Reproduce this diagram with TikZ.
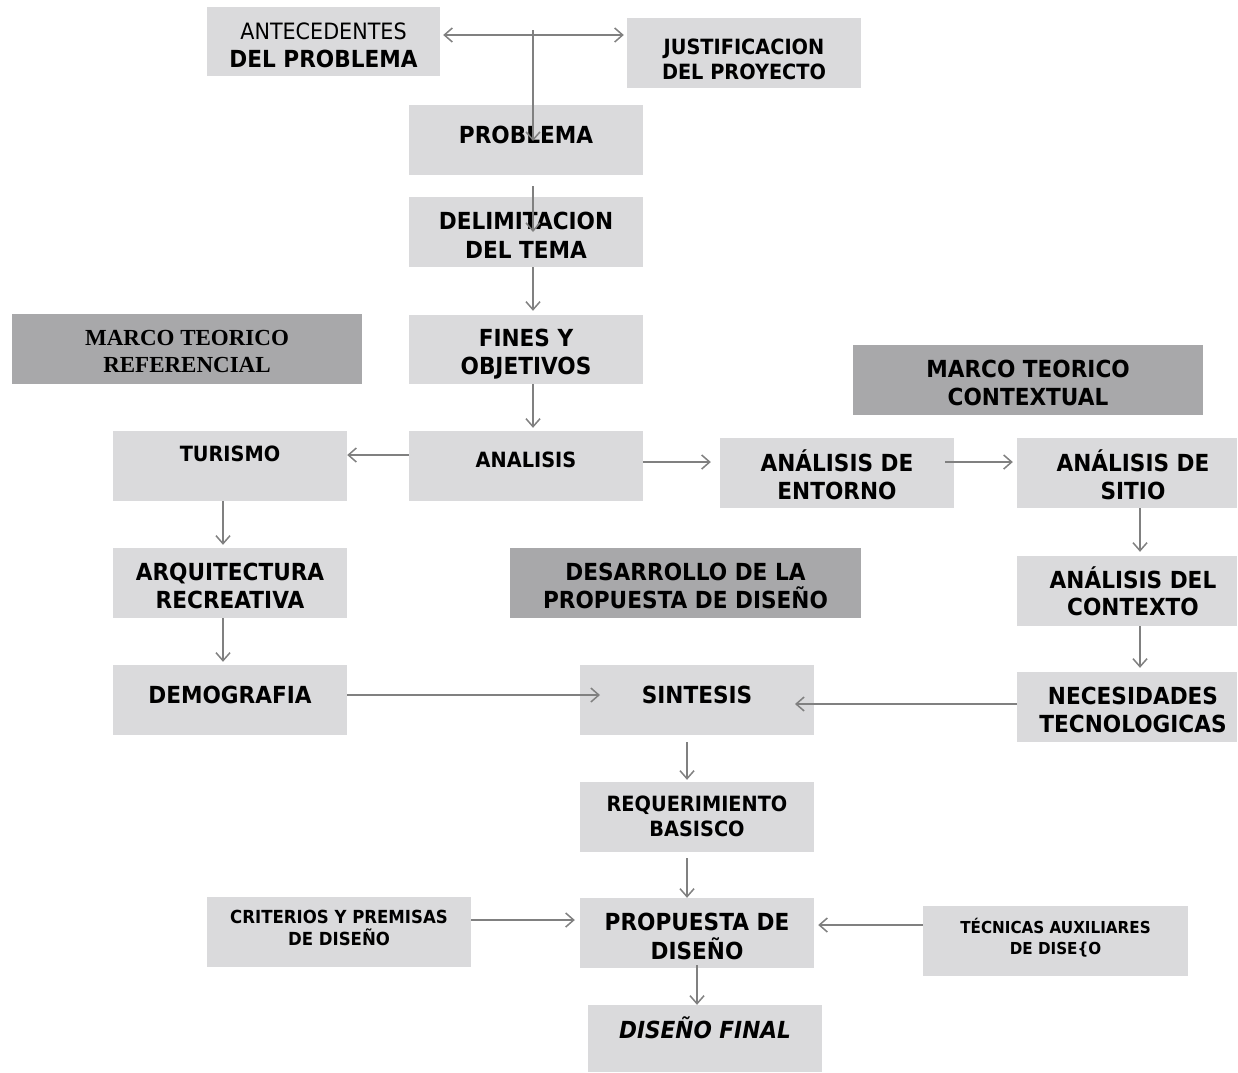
\documentclass[tikz,border=0pt]{standalone}
\usepackage{fontspec}
\setmainfont[FakeStretch=0.92]{DejaVu Sans}
\newfontfamily\timesf{Liberation Serif}
\usetikzlibrary{arrows.meta}
\definecolor{boxfill}{RGB}{218,218,220}
\definecolor{hdrfill}{RGB}{168,168,170}
\definecolor{arrowgray}{RGB}{128,128,128}
\newcommand{\bigf}{\fontsize{23.5}{28}\bfseries\selectfont}
\newcommand{\midf}{\fontsize{21}{25}\bfseries\selectfont}
\newcommand{\rsh}{\hspace*{12pt}}
\begin{document}
\begin{tikzpicture}[x=1pt,y=-1pt,
  box/.style={rectangle, fill=boxfill, inner sep=0pt, align=center, font=\bigf},
  hdr/.style={rectangle, fill=hdrfill, inner sep=0pt, align=center, font=\bigf},
  sz/.style 2 args={minimum width=#1pt, minimum height=#2pt},
  td/.style 2 args={text height=#1pt, text depth=#2pt},
  arr/.style={draw=arrowgray, line width=1.5pt, -{Straight Barb[length=8pt,width=14pt]}},
  darr/.style={draw=arrowgray, line width=1.5pt, {Straight Barb[length=8pt,width=14pt]}-{Straight Barb[length=8pt,width=14pt]}}
]
\useasboundingbox (0,0) rectangle (1238,1072);

% nodes
\node[box, sz={233}{69}, td={60.6}{8.4}] (ante) at (323.5,41.5) {{\fontsize{22.5}{28}\mdseries\selectfont ANTECEDENTES}\\DEL PROBLEMA};
\node[box, sz={234}{70}, font=\midf, td={61.7}{8.3}] (just) at (744,53) {JUSTIFICACION\\DEL PROYECTO};
\node[box, sz={234}{70}, td={38.6}{31.4}] (problema) at (526,140) {PROBLEMA};
\node[box, sz={234}{70}, font=\fontsize{23.5}{29}\bfseries\selectfont, td={61.6}{8.4}] (delim) at (526,232) {DELIMITACION\\DEL TEMA};
\node[box, sz={234}{69}, td={59.6}{9.4}] (fines) at (526,349.5) {FINES Y\\OBJETIVOS};
\node[box, sz={234}{70}, font=\midf, td={36.7}{33.3}] (analisis) at (526,466) {ANALISIS};
\node[hdr, sz={350}{70}, font=\fontsize{23}{27}\timesf\bfseries\selectfont, td={58.3}{11.7}] (mtr) at (187,349) {MARCO TEORICO\\REFERENCIAL};
\node[hdr, sz={350}{70}, td={60.6}{9.4}] (mtc) at (1028,380) {MARCO TEORICO\\CONTEXTUAL};
\node[box, sz={234}{70}, font=\midf, td={30.7}{39.3}] (turismo) at (230,466) {TURISMO};
\node[box, sz={234}{70}, td={61.6}{8.4}] (entorno) at (837,473) {ANÁLISIS DE\\ENTORNO};
\node[box, sz={220}{70}, td={61.6}{8.4}] (sitio) at (1127,473) {\rsh ANÁLISIS DE\\\rsh SITIO};
\node[box, sz={234}{70}, td={60.6}{9.4}] (arq) at (230,583) {ARQUITECTURA\\RECREATIVA};
\node[box, sz={234}{70}, td={38.6}{31.4}] (demo) at (230,700) {DEMOGRAFIA};
\node[hdr, sz={351}{70}, td={60.6}{9.4}] (desarrollo) at (685.5,583) {DESARROLLO DE LA\\PROPUESTA DE DISEÑO};
\node[box, sz={220}{70}, font=\fontsize{23.5}{27}\bfseries\selectfont, td={59.6}{10.4}] (contexto) at (1127,591) {\rsh ANÁLISIS DEL\\\rsh CONTEXTO};
\node[box, sz={220}{70}, td={60.6}{9.4}] (neces) at (1127,707) {\rsh NECESIDADES\\\rsh TECNOLOGICAS};
\node[box, sz={234}{70}, td={38.6}{31.4}] (sintesis) at (697,700) {SINTESIS};
\node[box, sz={234}{70}, font=\midf, td={54.7}{15.3}] (req) at (697,817) {REQUERIMIENTO\\BASISCO};
\node[box, sz={234}{70}, font=\fontsize{23.5}{29}\bfseries\selectfont, td={61.6}{8.4}] (prop) at (697,933) {PROPUESTA DE\\DISEÑO};
\node[box, sz={264}{70}, font=\fontsize{18}{22}\bfseries\selectfont, td={48.6}{21.4}] (crit) at (339,932) {CRITERIOS Y PREMISAS\\DE DISEÑO};
\node[box, sz={265}{70}, font=\fontsize{16.5}{21}\bfseries\selectfont, td={48}{22}] (tec) at (1055.5,941) {TÉCNICAS AUXILIARES\\DE DISE\{O};
\node[box, sz={234}{67}, font=\fontsize{23.5}{28}\bfseries\itshape\selectfont, td={33.6}{33.4}] (final) at (705,1038.5) {DISEÑO FINAL};

% helper coordinates
\coordinate (jn) at (533,30);
\coordinate (y35) at (0,35);
\coordinate (pj) at (533,141);
\coordinate (d1) at (533,186);
\coordinate (d2) at (533,232);
\coordinate (x533) at (533,0);
\coordinate (y455) at (0,455);
\coordinate (y462) at (0,462);
\coordinate (e1) at (945,462);
\coordinate (x223) at (223,0);
\coordinate (x1140) at (1140,0);
\coordinate (y695) at (0,695);
\coordinate (s1) at (600,695);
\coordinate (y704) at (0,704);
\coordinate (s2) at (795,704);
\coordinate (x687) at (687,0);
\coordinate (y920) at (0,920);
\coordinate (y925) at (0,925);
\coordinate (x697) at (697,0);

% connectors
\draw[darr, shorten <=3pt, shorten >=3pt] (ante.east |- y35) -- (just.west |- y35);
\draw[arr] (jn) -- (pj);
\draw[arr] (d1) -- (d2);
\draw[arr, shorten >=4pt] (delim.south -| x533) -- (fines.north -| x533);
\draw[arr, shorten >=3pt] (fines.south -| x533) -- (analisis.north -| x533);
\draw[arr] (analisis.west |- y455) -- (turismo.east |- y455);
\draw[arr, shorten >=9pt] (analisis.east |- y462) -- (entorno.west |- y462);
\draw[arr, shorten >=4pt] (e1) -- (sitio.west |- y462);
\draw[arr, shorten >=3pt] (turismo.south -| x223) -- (arq.north -| x223);
\draw[arr, shorten >=3pt] (arq.south -| x223) -- (demo.north -| x223);
\draw[arr, shorten >=4pt] (sitio.south -| x1140) -- (contexto.north -| x1140);
\draw[arr, shorten >=4pt] (contexto.south -| x1140) -- (neces.north -| x1140);
\draw[arr] (demo.east |- y695) -- (s1);
\draw[arr] (neces.west |- y704) -- (s2);
\draw[arr, shorten <=7pt, shorten >=2pt] (sintesis.south -| x687) -- (req.north -| x687);
\draw[arr, shorten <=6pt] (req.south -| x687) -- (prop.north -| x687);
\draw[arr, shorten >=5pt] (crit.east |- y920) -- (prop.west |- y920);
\draw[arr, shorten >=4pt] (tec.west |- y925) -- (prop.east |- y925);
\draw[arr, shorten <=-3pt] (prop.south -| x697) -- (final.north -| x697);
\end{tikzpicture}
\end{document}
